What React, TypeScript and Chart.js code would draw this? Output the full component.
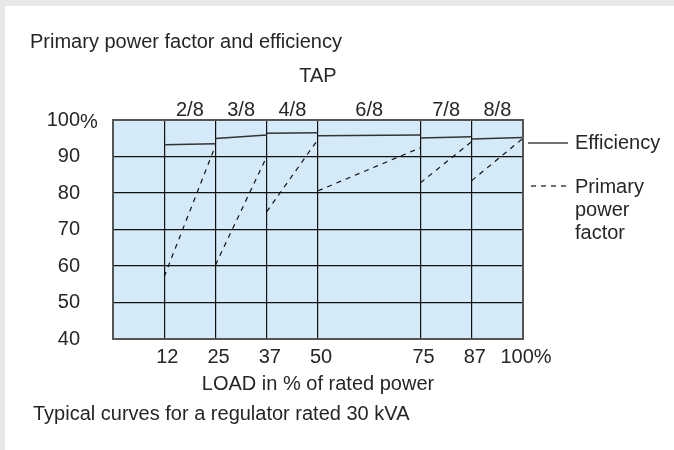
import React, { useEffect, useRef } from 'react';
import { Chart, registerables } from 'chart.js';
Chart.register(...registerables);

const tapLabels = ['2/8', '3/8', '4/8', '6/8', '7/8', '8/8'];
const tapStartLoad = [12.5, 25, 37.5, 50, 75, 87.5];
const tapEndLoad = [25, 37.5, 50, 75, 87.5, 100];
const efficiencyStart = [93.2, 94.9, 96.4, 95.7, 95.1, 94.8];
const efficiencyEnd = [93.5, 95.9, 96.5, 95.9, 95.4, 95.2];
const powerFactorStart = [57.1, 60.3, 74.9, 80.6, 82.8, 83.4];
const powerFactorEnd = [93.0, 90.0, 94.7, 92.4, 94.1, 95.0];
const loadTickValues = [12.5, 25, 37.5, 50, 75, 87.5, 100];
const loadTickLabels = ['12', '25', '37', '50', '75', '87', '100%'];
const percentTickValues = [40, 50, 60, 70, 80, 90, 100];
const percentTickLabels = ['40', '50', '60', '70', '80', '90', '100'];

const FONT = '"Liberation Sans", Arial, sans-serif';
const TEXT = '#262626';
const FS = 20;

function segments(starts: number[], ends: number[]) {
  const pts: { x: number; y: number | null }[] = [];
  tapStartLoad.forEach((x0, i) => {
    pts.push({ x: x0, y: starts[i] });
    pts.push({ x: tapEndLoad[i], y: ends[i] });
    pts.push({ x: tapEndLoad[i], y: null });
  });
  return pts;
}

const decor = {
  id: 'decor',
  beforeDraw(chart: any) {
    const { ctx, chartArea: a } = chart;
    ctx.save();
    ctx.fillStyle = '#e8e8e8';
    ctx.fillRect(0, 0, chart.width, chart.height);
    ctx.fillStyle = '#ffffff';
    ctx.fillRect(5, 6, chart.width - 5, chart.height - 6);
    ctx.fillStyle = '#d5eaf8';
    ctx.fillRect(a.left, a.top, a.right - a.left, a.bottom - a.top);
    ctx.restore();
  },
  afterDraw(chart: any) {
    const { ctx, chartArea: a, scales } = chart;
    const xs = scales.x;
    const ys = scales.y;
    ctx.save();
    ctx.strokeStyle = '#555';
    ctx.lineWidth = 2;
    ctx.strokeRect(a.left, a.top, a.right - a.left, a.bottom - a.top);

    ctx.fillStyle = TEXT;
    ctx.font = `${FS}px ${FONT}`;
    ctx.textBaseline = 'middle';
    ctx.textAlign = 'left';
    ctx.fillText('Primary power factor and efficiency', 30, 42);
    ctx.fillText('Typical curves for a regulator rated 30 kVA', 33, 414);
    ctx.fillText('%', 80, ys.getPixelForValue(100) + 2);

    ctx.textAlign = 'center';
    ctx.fillText('TAP', (a.left + a.right) / 2, 76);
    tapLabels.forEach((t, i) => {
      const cx = xs.getPixelForValue((tapStartLoad[i] + tapEndLoad[i]) / 2);
      ctx.fillText(t, cx, 110);
    });
    ctx.fillText('LOAD in % of rated power', (a.left + a.right) / 2, 384);

    // legend
    const lx0 = a.right + 5;
    ctx.strokeStyle = '#444';
    ctx.lineWidth = 1.5;
    ctx.beginPath();
    ctx.moveTo(lx0, 143);
    ctx.lineTo(lx0 + 40, 143);
    ctx.stroke();
    ctx.strokeStyle = '#111';
    ctx.lineWidth = 1.2;
    ctx.setLineDash([5, 5]);
    ctx.beginPath();
    ctx.moveTo(lx0 + 3, 186);
    ctx.lineTo(lx0 + 43, 186);
    ctx.stroke();
    ctx.setLineDash([]);
    ctx.textAlign = 'left';
    ctx.fillText('Efficiency', 575, 143);
    ctx.fillText('Primary', 575, 187);
    ctx.fillText('power', 575, 210);
    ctx.fillText('factor', 575, 233);
    ctx.restore();
  },
};

export default function App() {
  const ref = useRef<HTMLCanvasElement | null>(null);
  useEffect(() => {
    if (!ref.current) return;
    const chart = new Chart(ref.current, {
      type: 'line',
      data: {
        datasets: [
          {
            label: 'Efficiency',
            data: segments(efficiencyStart, efficiencyEnd) as any,
            borderColor: '#333',
            borderWidth: 1.5,
            pointRadius: 0,
            spanGaps: false,
            fill: false,
          },
          {
            label: 'Primary power factor',
            data: segments(powerFactorStart, powerFactorEnd) as any,
            borderColor: '#111',
            borderWidth: 1.2,
            borderDash: [5, 5],
            pointRadius: 0,
            spanGaps: false,
            fill: false,
          },
        ],
      },
      options: {
        responsive: false,
        animation: false,
        devicePixelRatio: 1,
        layout: { padding: { left: 0, top: 120, right: 151, bottom: 0 } },
        plugins: { legend: { display: false }, tooltip: { enabled: false }, title: { display: false } },
        scales: {
          x: {
            type: 'linear',
            min: 0,
            max: 100,
            afterBuildTicks: (s: any) => {
              s.ticks = loadTickValues.map((v) => ({ value: v }));
            },
            afterFit: (s: any) => {
              s.height = 111;
            },
            grid: { color: '#111', lineWidth: 1.2, drawTicks: false },
            border: { display: false },
            ticks: {
              autoSkip: false,
              maxRotation: 0,
              padding: 6,
              labelOffset: 3,
              color: TEXT,
              font: { family: FONT, size: FS },
              callback: (v: any) => {
                const i = loadTickValues.indexOf(Number(v));
                return i >= 0 ? loadTickLabels[i] : '';
              },
            },
          },
          y: {
            type: 'linear',
            min: 40,
            max: 100,
            afterBuildTicks: (s: any) => {
              s.ticks = percentTickValues.map((v) => ({ value: v }));
            },
            afterFit: (s: any) => {
              s.width = 113;
            },
            grid: { color: '#111', lineWidth: 1.2, drawTicks: false },
            border: { display: false },
            ticks: {
              crossAlign: 'near',
              padding: 33,
              color: TEXT,
              font: { family: FONT, size: FS },
              callback: (v: any) => {
                const i = percentTickValues.indexOf(Number(v));
                return i >= 0 ? percentTickLabels[i] : '';
              },
            },
          },
        },
      },
      plugins: [decor],
    } as any);
    return () => chart.destroy();
  }, []);
  return (
    <canvas
      ref={ref}
      width={674}
      height={450}
      style={{ position: 'fixed', left: 0, top: 0, width: 674, height: 450, display: 'block' }}
    />
  );
}
